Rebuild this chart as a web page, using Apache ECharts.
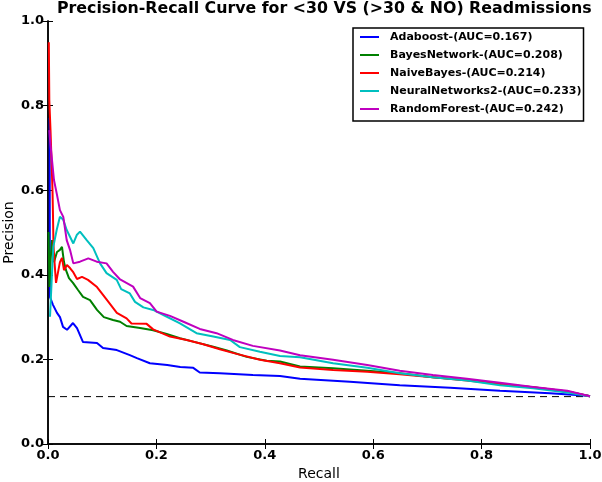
<!DOCTYPE html>
<html><head><meta charset="utf-8">
<script src="https://cdn.jsdelivr.net/npm/echarts@6/dist/echarts.min.js"></script>
<style>html,body{margin:0;padding:0;background:#fff}#c{width:602px;height:482px}</style>
</head><body><div id="c"></div>
<script>
var seriesNames = ['Adaboost-(AUC=0.167)','BayesNetwork-(AUC=0.208)','NaiveBayes-(AUC=0.214)','NeuralNetworks2-(AUC=0.233)','RandomForest-(AUC=0.242)'];
var seriesColors = ['#0000ff','#008000','#ff0000','#00bfbf','#bf00bf'];
var xTicks = [0,0.2,0.4,0.6,0.8,1.0];
var yTicks = [0,0.2,0.4,0.6,0.8,1.0];

var adaRecall =    [0.003,0.0035,0.0092,0.0166,0.0221,0.0277,0.0351,0.0461,0.0535,0.0646,0.0904,0.1015,0.127,0.151,0.164,0.188,0.220,0.244,0.268,0.280,0.317,0.378,0.428,0.465,0.557,0.649,0.742,0.834,0.926,0.996,1.0];
var adaPrecision = [0.771,0.348,0.329,0.310,0.300,0.277,0.270,0.286,0.274,0.241,0.239,0.227,0.222,0.210,0.203,0.191,0.187,0.182,0.180,0.169,0.167,0.163,0.161,0.154,0.147,0.139,0.133,0.126,0.120,0.114,0.113];

var bayesRecall =    [0.001,0.0028,0.0046,0.0074,0.011,0.0166,0.022,0.0258,0.0295,0.0332,0.0387,0.0461,0.0554,0.0646,0.0775,0.0904,0.103,0.120,0.133,0.145,0.170,0.194,0.219,0.2435,0.268,0.305,0.330,0.3666,0.4035,0.428,0.465,0.526,0.589,0.649,0.710,0.773,0.834,0.895,0.958,1.0];
var bayesPrecision = [0.501,0.371,0.430,0.482,0.430,0.454,0.459,0.466,0.430,0.411,0.392,0.381,0.364,0.348,0.340,0.317,0.300,0.293,0.289,0.279,0.274,0.269,0.260,0.250,0.242,0.230,0.221,0.206,0.197,0.195,0.183,0.179,0.173,0.167,0.158,0.151,0.142,0.134,0.124,0.113];

var naiveRecall =    [0.0015,0.0024,0.0046,0.0065,0.0083,0.0092,0.0101,0.012,0.0148,0.0166,0.022,0.0258,0.0295,0.035,0.0406,0.0461,0.0535,0.0627,0.0738,0.0904,0.109,0.127,0.145,0.154,0.182,0.194,0.225,0.256,0.2865,0.317,0.348,0.391,0.428,0.465,0.526,0.589,0.649,0.710,0.773,0.834,0.895,0.958,1.0];
var naivePrecision = [0.950,0.813,0.742,0.671,0.600,0.541,0.470,0.430,0.381,0.383,0.430,0.440,0.411,0.423,0.416,0.407,0.390,0.395,0.388,0.371,0.340,0.310,0.297,0.285,0.284,0.271,0.254,0.246,0.236,0.224,0.213,0.199,0.191,0.181,0.175,0.171,0.165,0.158,0.150,0.142,0.134,0.124,0.113];

var neuralRecall =    [0.0037,0.0068,0.0098,0.016,0.022,0.0282,0.0345,0.0406,0.0467,0.053,0.059,0.0714,0.0836,0.096,0.108,0.1268,0.135,0.151,0.1605,0.176,0.194,0.213,0.2435,0.274,0.305,0.336,0.354,0.391,0.428,0.465,0.526,0.589,0.649,0.710,0.773,0.834,0.895,0.958,1.0];
var neuralPrecision = [0.301,0.388,0.466,0.506,0.537,0.530,0.506,0.490,0.474,0.494,0.502,0.482,0.463,0.427,0.404,0.388,0.366,0.356,0.336,0.323,0.317,0.305,0.285,0.262,0.254,0.246,0.229,0.218,0.208,0.205,0.191,0.180,0.167,0.158,0.150,0.139,0.132,0.122,0.113];

var forestRecall =    [0.0024,0.0046,0.0074,0.011,0.0166,0.022,0.0282,0.0345,0.0406,0.0467,0.059,0.0744,0.0899,0.108,0.120,0.133,0.157,0.170,0.188,0.2005,0.225,0.250,0.280,0.311,0.341,0.378,0.428,0.465,0.526,0.589,0.649,0.710,0.773,0.834,0.895,0.958,1.0];
var forestPrecision = [0.742,0.707,0.671,0.624,0.589,0.553,0.537,0.482,0.459,0.427,0.431,0.439,0.431,0.427,0.407,0.389,0.372,0.345,0.333,0.313,0.303,0.289,0.272,0.262,0.246,0.232,0.221,0.210,0.199,0.187,0.173,0.163,0.154,0.145,0.135,0.126,0.113];

var baselineRecall = [0, 1];
var baselinePrecision = [0.112, 0.112];

function pairs(xs, ys) { return xs.map(function (x, i) { return [x, ys[i]]; }); }
var allRecall = [adaRecall, bayesRecall, naiveRecall, neuralRecall, forestRecall];
var allPrecision = [adaPrecision, bayesPrecision, naivePrecision, neuralPrecision, forestPrecision];

var FONT = 'DejaVu Sans';
var series = seriesNames.map(function (n, i) {
  return {
    name: n, type: 'line', data: pairs(allRecall[i], allPrecision[i]),
    symbol: 'none', showSymbol: false, animation: false, z: 2 + i,
    lineStyle: { color: seriesColors[i], width: 2 },
    itemStyle: { color: seriesColors[i] }
  };
});
series.push({
  name: 'baseline', type: 'line', data: pairs(baselineRecall, baselinePrecision),
  symbol: 'none', animation: false, z: 1,
  lineStyle: { color: '#000', width: 1, type: [7, 5] }
});

function fmt(v) { return v.toFixed(1); }
var chart = echarts.init(document.getElementById('c'), null, { renderer: 'canvas' });
chart.setOption({
  backgroundColor: '#fff',
  animation: false,
  title: {
    text: 'Precision-Recall Curve for <30 VS (>30 & NO) Readmissions',
    left: 57, top: 0, padding: [1, 0, 0, 0],
    textStyle: { fontFamily: FONT, fontSize: 15.8, fontWeight: 'bold', color: '#000' }
  },
  legend: {
    data: seriesNames.map(function (n, i) { return { name: n, icon: 'rect', itemStyle: { color: seriesColors[i] } }; }),
    orient: 'vertical', left: 353, top: 28,
    borderColor: '#000', borderWidth: 1.5, padding: [3, 2, 6, 7],
    itemWidth: 19, itemHeight: 2, itemGap: 6,
    textStyle: { fontFamily: FONT, fontSize: 11, fontWeight: 'bold', color: '#000', padding: [0, 0, 0, 6], lineHeight: 12 }
  },
  grid: { left: 48, right: 12, top: 21, bottom: 38, outerBoundsMode: 'none', containLabel: false },
  xAxis: [{
    type: 'value', min: 0, max: 1, interval: 0.2, position: 'bottom',
    name: 'Recall', nameLocation: 'middle', nameGap: 23, nameMoveOverlap: false,
    nameTextStyle: { fontFamily: FONT, fontSize: 14, color: '#000' },
    axisLine: { show: true, lineStyle: { color: '#000', width: 1.5 } },
    axisTick: { show: true, inside: true, length: 5, lineStyle: { color: '#000' } },
    axisLabel: { formatter: fmt, fontFamily: FONT, fontSize: 13, fontWeight: 'bold', color: '#000', margin: 5 },
    splitLine: { show: false }
  }, {
    type: 'value', min: 0, max: 1, interval: 0.2, position: 'top',
    axisLine: { show: true, lineStyle: { color: '#000', width: 1.5 } },
    axisTick: { show: true, inside: true, length: 5, lineStyle: { color: '#000' } },
    axisLabel: { show: false }, splitLine: { show: false }
  }],
  yAxis: [{
    type: 'value', min: 0, max: 1, interval: 0.2, position: 'left',
    name: 'Precision', nameLocation: 'middle', nameGap: 32, nameRotate: 90, nameMoveOverlap: false,
    nameTextStyle: { fontFamily: FONT, fontSize: 14, color: '#000' },
    axisLine: { show: true, lineStyle: { color: '#000', width: 1.5 } },
    axisTick: { show: true, inside: true, length: 5, lineStyle: { color: '#000' } },
    axisLabel: { formatter: fmt, fontFamily: FONT, fontSize: 13, fontWeight: 'bold', color: '#000', margin: 4 },
    splitLine: { show: false }
  }, {
    type: 'value', min: 0, max: 1, interval: 0.2, position: 'right',
    axisLine: { show: true, lineStyle: { color: '#000', width: 1.5 } },
    axisTick: { show: true, inside: true, length: 5, lineStyle: { color: '#000' } },
    axisLabel: { show: false }, splitLine: { show: false }
  }],
  series: series
});
</script></body></html>
